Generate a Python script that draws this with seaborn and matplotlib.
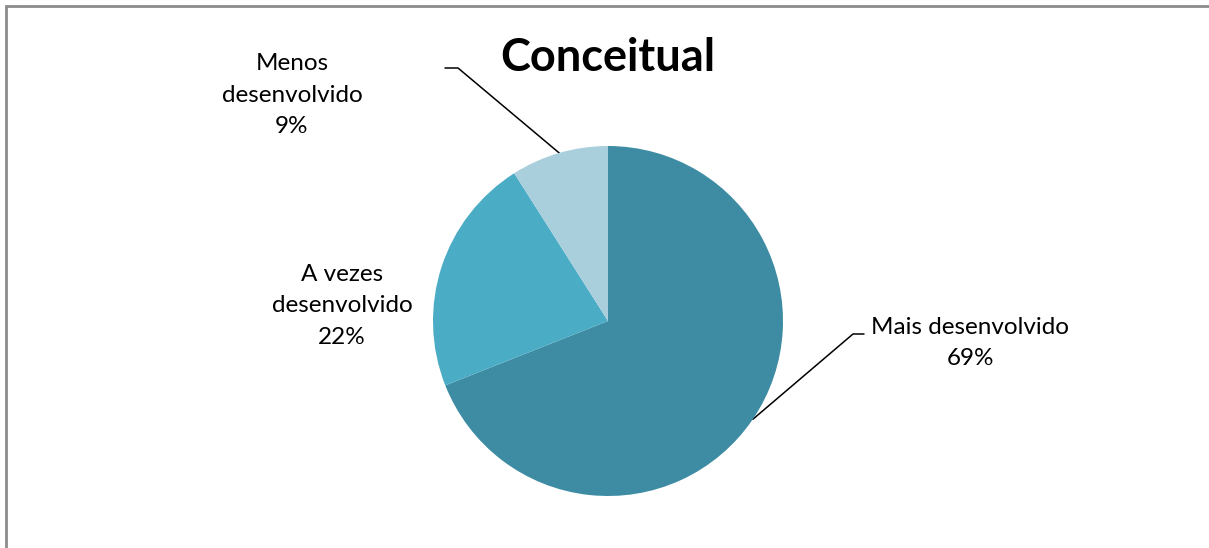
import numpy as np
import matplotlib
matplotlib.use("Agg")
import matplotlib.pyplot as plt
import seaborn as sns

# Data
categories = ["Mais desenvolvido", "A vezes desenvolvido", "Menos desenvolvido"]
values = [69, 22, 9]
wedge_colors = ["#3E8CA3", "#4BACC6", "#A9CEDC"]
title = "Conceitual"

sns.set_theme(style="white")
plt.rcParams["font.family"] = ["Lato", "DejaVu Sans"]

W, H = 1209, 548
fig = plt.figure(figsize=(W / 100, H / 100), dpi=100)
fig.patch.set_facecolor("white")


def fx(px):
    return px / W


def fy(py):
    return 1 - py / H


# Chart frame (left and top edges visible)
frame = fig.add_axes([0, 0, 1, 1])
frame.set_xlim(0, W)
frame.set_ylim(H, 0)
frame.axis("off")
frame.plot([6, 6, W + 5], [H + 5, 6, 6], color="#8C8C8C", lw=2.0,
           solid_capstyle="butt", solid_joinstyle="miter")

# Pie axes: centre (608, 321), radius 175 px
cx, cy, r = 608, 321, 175
ax = fig.add_axes([fx(cx - r), fy(cy + r), 2 * r / W, 2 * r / H])
wedges, _ = ax.pie(values, colors=wedge_colors, startangle=90,
                   counterclock=False, radius=1.0,
                   wedgeprops=dict(linewidth=0))
ax.set_xlim(-1, 1)
ax.set_ylim(-1, 1)
ax.set_aspect("auto")
ax.axis("off")

# Title
fig.text(fx(608), fy(58), title, ha="center", va="center",
         fontsize=32.5, fontweight="bold", color="black")

# Labels with leader lines
label_texts = [
    f"{categories[0]}\n{values[0]}%",
    "A vezes\ndesenvolvido\n" + f"{values[1]}%",
    "Menos\ndesenvolvido\n" + f"{values[2]}%",
]
label_pos = [(970, 343), (342, 306), (292, 95)]
leader = [(864, 334, 853), None, (445, 68, 458)]

for w, txt, (lx, ly), ld in zip(wedges, label_texts, label_pos, leader):
    fig.text(fx(lx), fy(ly), txt, ha="center", va="center",
             fontsize=17.5, color="black", linespacing=1.62)
    if ld is None:
        continue
    mid = np.deg2rad((w.theta1 + w.theta2) / 2)
    ex = cx + r * np.cos(mid)
    ey = cy - r * np.sin(mid)
    x_out, y_h, x_in = ld
    frame.plot([x_out, x_in, ex], [y_h, y_h, ey], color="black", lw=1.1)

fig.savefig("out.png", dpi=100, facecolor="white")
